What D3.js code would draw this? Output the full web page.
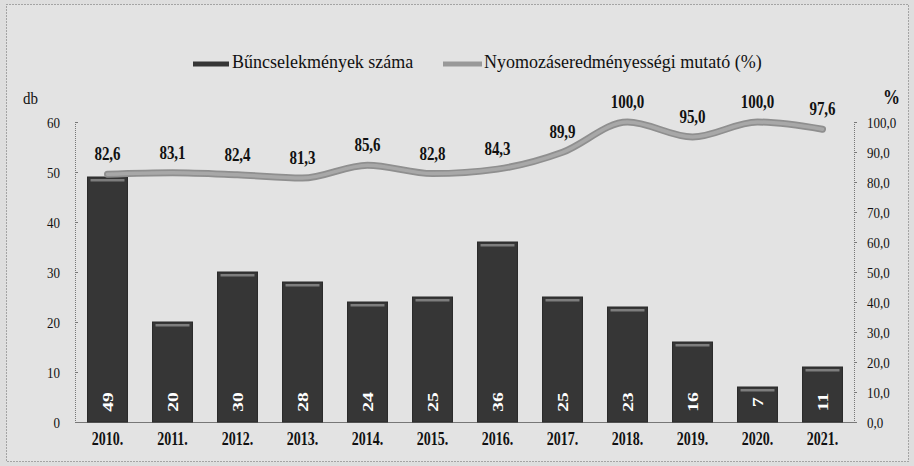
<!DOCTYPE html>
<html><head><meta charset="utf-8">
<script src="https://cdn.jsdelivr.net/npm/d3@7"></script>
</head><body style="margin:0;background:#dedede">
<svg id="c" width="914" height="466" style="display:block"></svg>
<script>
const years = ["2010.","2011.","2012.","2013.","2014.","2015.","2016.","2017.","2018.","2019.","2020.","2021."];
const crimes = [49,20,30,28,24,25,36,25,23,16,7,11];
const rate = [82.6,83.1,82.4,81.3,85.6,82.8,84.3,89.9,100.0,95.0,100.0,97.6];
const leftTicks = [0,10,20,30,40,50,60];
const rightTicks = [0,10,20,30,40,50,60,70,80,90,100];
const seriesNames = ["Bűncselekmények száma","Nyomozáseredményességi mutató (%)"];

const svg = d3.select("#c");
const W=914,H=466;
const FONT = '"Liberation Serif"';
svg.append("rect").attr("x",0).attr("y",0).attr("width",W).attr("height",H).attr("fill","#dedede");
svg.append("rect").attr("x",6.5).attr("y",4.5).attr("width",902).attr("height",457)
  .attr("fill","#e3e3e3").attr("stroke","#666").attr("stroke-dasharray","1,2");

const yTop=122,yBot=422;
const x = d3.scaleBand().domain(years).range([75,855]).paddingInner(0.385).paddingOuter(0.1925);
const yL = d3.scaleLinear().domain([0,60]).range([yBot,yTop]);
const yR = d3.scaleLinear().domain([0,100]).range([yBot,yTop]);
const fmt = d=>d3.format(".1f")(d).replace(".",",");

// left axis
const gL = svg.append("g").attr("transform","translate(75,0)")
  .call(d3.axisLeft(yL).tickValues(leftTicks).tickSize(-3));
gL.attr("font-family",null).attr("font-size",null);
gL.select(".domain").attr("stroke","#777").attr("stroke-dasharray","1,1");
gL.selectAll(".tick line").attr("stroke","#777");
gL.selectAll("text").attr("x",0).attr("transform","translate(-15,0) scale(1,1.2)")
  .attr("font-size",13).attr("fill","#111");

// right axis
const gR = svg.append("g").attr("transform","translate(854,0)")
  .call(d3.axisRight(yR).tickValues(rightTicks).tickSize(3).tickFormat(fmt));
gR.attr("font-family",null).attr("font-size",null);
gR.select(".domain").attr("stroke","#777").attr("stroke-dasharray","1,1");
gR.selectAll(".tick line").attr("stroke","#777");
gR.selectAll("text").attr("x",0).attr("transform","translate(13,0) scale(1,1.2)")
  .attr("font-size",13).attr("fill","#111");

// bottom axis
const gX = svg.append("g").attr("transform",`translate(0,${yBot})`)
  .call(d3.axisBottom(x).tickSize(0));
gX.attr("font-family",null).attr("font-size",null);
gX.select(".domain").attr("stroke","#777").attr("stroke-width",1.2);
gX.selectAll("text").attr("y",null).attr("dy",null).attr("transform","translate(0,23) scale(1,1.27)")
  .attr("font-size",14).attr("font-weight","bold").attr("fill","#111");

// bars
const bars = svg.append("g");
bars.selectAll("rect.bar").data(crimes).join("rect").attr("class","bar")
  .attr("x",(d,i)=>x(years[i])).attr("width",x.bandwidth())
  .attr("y",d=>yL(d)).attr("height",d=>yBot-yL(d)).attr("fill","#363636")
  .attr("stroke","#2a2a2a").attr("stroke-width",1);
bars.selectAll("rect.hl").data(crimes).join("rect").attr("class","hl")
  .attr("x",(d,i)=>x(years[i])+3).attr("width",x.bandwidth()-6)
  .attr("y",d=>yL(d)+2).attr("height",2.5).attr("fill","#7d7d7d");
bars.selectAll("text").data(crimes).join("text")
  .attr("transform",(d,i)=>`translate(${x(years[i])+x.bandwidth()/2+5},402) scale(1,1.4) rotate(-90)`)
  .attr("text-anchor","middle").attr("fill","#fff").attr("font-weight","bold").attr("font-size",14)
  .text(d=>d);

// line
const cx = (d,i)=>x(years[i])+x.bandwidth()/2;
const line = d3.line().x(cx).y(d=>yR(d)).curve(d3.curveMonotoneX);
svg.append("path").datum(rate).attr("d",line).attr("fill","none")
  .attr("stroke","#8f8f8f").attr("stroke-width",7).attr("stroke-linecap","round");
svg.append("path").datum(rate).attr("d",line).attr("fill","none")
  .attr("stroke","#a8a8a8").attr("stroke-width",3.5).attr("stroke-linecap","round");
svg.append("g").selectAll("text").data(rate).join("text")
  .attr("transform",(d,i)=>`translate(${cx(d,i)},${yR(d)-14}) scale(1,1.27)`)
  .attr("text-anchor","middle").attr("font-weight","bold").attr("font-size",15).attr("fill","#111")
  .text(fmt);

// axis titles
svg.append("text").attr("transform","translate(23,104) scale(1,1.15)").attr("font-size",15).attr("fill","#111").text("db");
svg.append("text").attr("transform","translate(883,104) scale(1,1.2)").attr("font-size",17).attr("font-weight","bold").attr("fill","#111").text("%");

// legend
const lg = svg.append("g");
lg.append("rect").attr("x",193).attr("y",61.5).attr("width",36).attr("height",5).attr("fill","#363636");
lg.append("text").attr("transform","translate(232,68) scale(1,1.08)").attr("font-size",18).attr("fill","#111").text(seriesNames[0]);
lg.append("line").attr("x1",443).attr("x2",482).attr("y1",64).attr("y2",64).attr("stroke","#999").attr("stroke-width",5);
lg.append("text").attr("transform","translate(484,68) scale(1,1.08)").attr("font-size",18).attr("fill","#111").text(seriesNames[1]);

svg.selectAll("text").attr("font-family","Liberation Serif").style("font-family",FONT);
</script>
</body></html>
